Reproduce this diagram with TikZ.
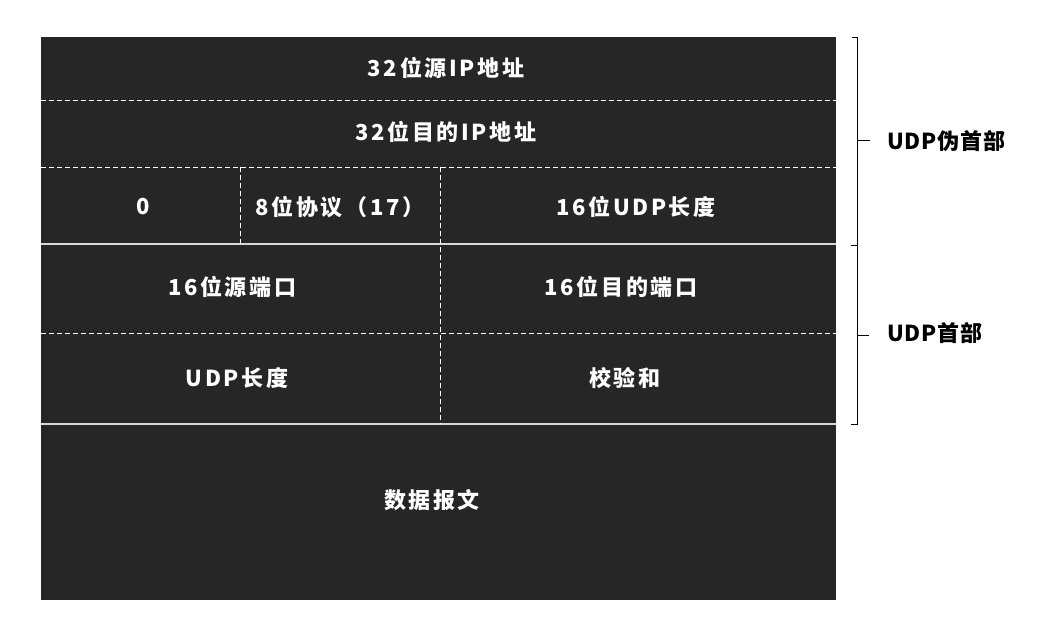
\documentclass[tikz,border=0pt]{standalone}
\usepackage{fontspec}
\newfontfamily\cjk{Noto Sans CJK SC}[LetterSpace=12]
\newfontfamily\cjkside{Noto Sans CJK SC}[LetterSpace=4]
\usepackage{tikz}
\usetikzlibrary{positioning}
\definecolor{cell}{RGB}{38,38,38}
\definecolor{seamc}{RGB}{215,215,215}

\begin{document}
\begin{tikzpicture}[x=1pt,y=-1pt,
  lbl/.style={text=white,font=\cjk\bfseries\fontsize{22}{26}\selectfont,inner sep=0pt},
  side/.style={text=black,font=\cjkside\bfseries\fontsize{22}{26}\selectfont,inner sep=0pt,anchor=west},
  cut/.style={white,dash pattern=on 5pt off 3pt,line width=0.9pt},
  seam/.style={seamc,line width=1.6pt},
  brace/.style={black,line width=1pt}]
  \useasboundingbox (0,0) rectangle (1040,638);
  \fill[cell] (41,37) rectangle (836,600);
  % row rules
  \draw[cut] (41,100) -- (836,100);
  \draw[cut] (41,167) -- (836,167);
  \draw[seam] (41,244) -- (836,244);
  \draw[cut] (41,333) -- (836,333);
  \draw[seam] (41,424) -- (836,424);
  \draw[cut] (240,167) -- (240,244);
  \draw[cut] (440,167) -- (440,424);
  % field names
  \node[lbl] (srcip) at (446,68) {32位源IP地址};
  \node[lbl] (dstip) at (446,132) {32位目的IP地址};
  \node[lbl] (zero) at (143,207) {0};
  \node[lbl] (proto) at (340,207) {8位协议（17）};
  \node[lbl] (ulen) at (636,207) {16位UDP长度};
  \node[lbl] (sport) at (232,287) {16位源端口};
  \node[lbl] (dport) at (621,287) {16位目的端口};
  \node[lbl] (len) at (237,378) {UDP长度};
  \node[lbl] (csum) at (625,378) {校验和};
  \node[lbl] (data) at (432,500) {数据报文};
  % braces on the right
  \draw[brace] (852,37) -- (857,37) -- (857,245) -- (851,245);
  \draw[brace] (857,245) -- (857,424) -- (851,424);
  \coordinate (pk) at (870,140);
  \coordinate (hk) at (869,335);
  \draw[brace] (857,140) -- (pk);
  \draw[brace] (857,335) -- (hk);
  \node[side] (pseudo) at (887,141) {UDP伪首部};
  \node[side] (hdr) at (887,333) {UDP首部};
\end{tikzpicture}
\end{document}
